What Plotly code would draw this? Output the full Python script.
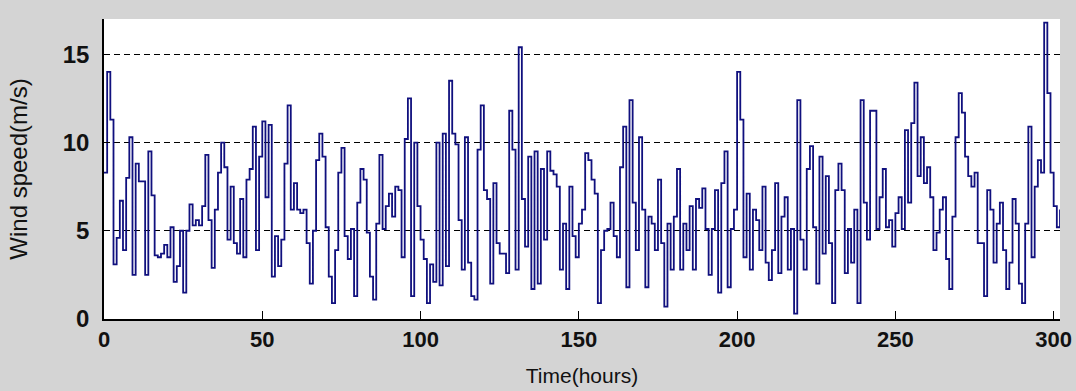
import numpy as np
import plotly.graph_objects as go

# Wind speed (m/s), one value per hour
wind_speed = [
    # 0-29
    8.3, 14.0, 11.3, 3.1, 4.6, 6.7, 3.9, 8.0, 10.3, 2.5,
    8.8, 7.8, 7.8, 2.5, 9.5, 7.0, 3.6, 3.5, 3.7, 4.2,
    3.5, 5.2, 2.1, 3.0, 5.0, 1.5, 5.0, 6.5, 5.3, 5.6,
    # 30-61
    5.3, 6.4, 9.3, 5.6, 2.9, 6.2, 8.3, 10.0, 8.6, 4.5,
    7.5, 4.3, 3.7, 6.8, 3.5, 7.9, 8.5, 10.9, 3.9, 9.2,
    11.2, 6.9, 11.0, 2.4, 4.7, 3.0, 4.5, 8.8, 12.1, 6.2,
    7.7, 6.2,
    # 62-92
    6.0, 6.2, 4.3, 2.0, 5.0, 9.0, 10.5, 9.2, 5.2, 2.4,
    0.9, 3.9, 8.3, 9.7, 4.7, 3.4, 5.1, 1.3, 6.6, 8.5,
    7.9, 4.9, 2.4, 1.1, 5.4, 9.3, 5.1, 6.4, 7.1, 5.8,
    7.5,
    # 93-123
    7.3, 3.5, 10.2, 12.5, 1.3, 10.0, 6.4, 4.5, 3.4, 0.9,
    3.1, 2.1, 10.0, 1.9, 10.5, 3.0, 13.5, 10.5, 9.9, 5.6,
    2.8, 10.3, 3.2, 1.3, 1.1, 9.6, 12.1, 7.3, 6.8, 2.0,
    7.7,
    # 124-155
    4.3, 3.7, 3.7, 2.6, 11.8, 9.6, 2.8, 15.4, 6.8, 4.1,
    9.2, 1.7, 9.5, 2.0, 8.5, 4.5, 9.5, 8.4, 8.2, 7.5,
    2.8, 5.4, 1.7, 7.5, 4.7, 3.5, 5.4, 6.2, 9.4, 9.0,
    7.9, 7.1,
    # 156-187
    0.9, 3.9, 5.0, 5.1, 6.6, 4.7, 3.5, 8.6, 10.9, 1.8,
    12.4, 6.6, 3.9, 10.3, 6.2, 1.8, 5.8, 5.4, 3.9, 7.9,
    4.3, 0.7, 5.4, 2.8, 5.8, 8.5, 2.8, 5.4, 3.9, 6.4,
    2.8, 6.8,
    # 188-219
    6.3, 7.4, 5.1, 2.5, 5.1, 7.3, 1.5, 7.7, 9.5, 1.8,
    5.1, 6.2, 14.0, 11.3, 3.5, 7.1, 2.8, 6.2, 5.6, 3.9,
    7.5, 3.2, 2.2, 3.9, 7.7, 2.6, 5.8, 6.9, 2.8, 5.1,
    0.3, 12.4,
    # 220-250
    4.5, 2.8, 8.5, 9.8, 5.2, 2.0, 9.2, 3.7, 8.1, 4.3,
    0.9, 7.3, 8.8, 7.3, 2.6, 5.1, 3.2, 6.2, 0.9, 12.4,
    6.6, 4.5, 11.8, 11.8, 5.1, 6.9, 8.5, 5.2, 5.6, 4.1,
    6.0,
    # 251-282
    6.9, 5.1, 10.7, 6.6, 11.1, 13.4, 8.1, 10.3, 7.7, 8.6,
    6.9, 3.9, 4.9, 6.2, 6.9, 3.4, 1.7, 5.8, 10.3, 12.8,
    11.7, 9.2, 8.1, 7.5, 8.3, 4.3, 4.3, 1.3, 7.3, 6.2,
    3.2, 5.4,
    # 283-302
    6.6, 3.9, 1.7, 3.2, 6.8, 5.4, 2.0, 0.9, 5.4, 10.9,
    3.5, 7.5, 9.0, 8.3, 16.8, 12.8, 8.3, 6.4, 5.2, 6.2,
]
hours = list(range(len(wind_speed)))

x_ticks = [0, 50, 100, 150, 200, 250, 300]
y_ticks = [0, 5, 10, 15]
x_title = "Time(hours)"
y_title = "Wind speed(m/s)"

fig = go.Figure()
fig.add_trace(go.Scatter(
    x=hours, y=wind_speed, mode="lines", line_shape="hv",
    line=dict(color="#10107e", width=1.8),
    showlegend=False,
))

xtickfont = dict(family="Liberation Sans, Arial, sans-serif", size=22, color="#111111", weight="bold")
ytickfont = dict(family="Liberation Sans, Arial, sans-serif", size=24, color="#111111", weight="bold")
titlefont = dict(family="Liberation Sans, Arial, sans-serif", size=21, color="#111111")
ytitlefont = dict(family="Liberation Sans, Arial, sans-serif", size=24, color="#111111")

fig.update_layout(
    width=1076, height=391,
    margin=dict(l=104, r=16, t=19, b=72, autoexpand=False),
    paper_bgcolor="#d4d4d4",
    plot_bgcolor="#ffffff",
    xaxis=dict(
        range=[0, 302], tickvals=x_ticks, ticks="inside", ticklen=8,
        tickcolor="#000000", tickwidth=1, automargin=False,
        showline=True, linecolor="#000000", linewidth=1.5, mirror=False,
        showgrid=False, zeroline=False, tickfont=xtickfont,
        title=dict(text=x_title, font=titlefont, standoff=17),
    ),
    yaxis=dict(
        range=[0, 17], tickvals=y_ticks, ticks="inside", ticklen=6,
        tickcolor="#000000", tickwidth=1, automargin=False,
        showline=True, linecolor="#000000", linewidth=1.5, mirror=False,
        showgrid=True, gridcolor="#000000", gridwidth=1, griddash="6px,4px",
        zeroline=False, tickfont=ytickfont, ticklabelstandoff=8,
        title=dict(text=y_title, font=ytitlefont, standoff=28),
    ),
)

fig.write_html("out.html")
